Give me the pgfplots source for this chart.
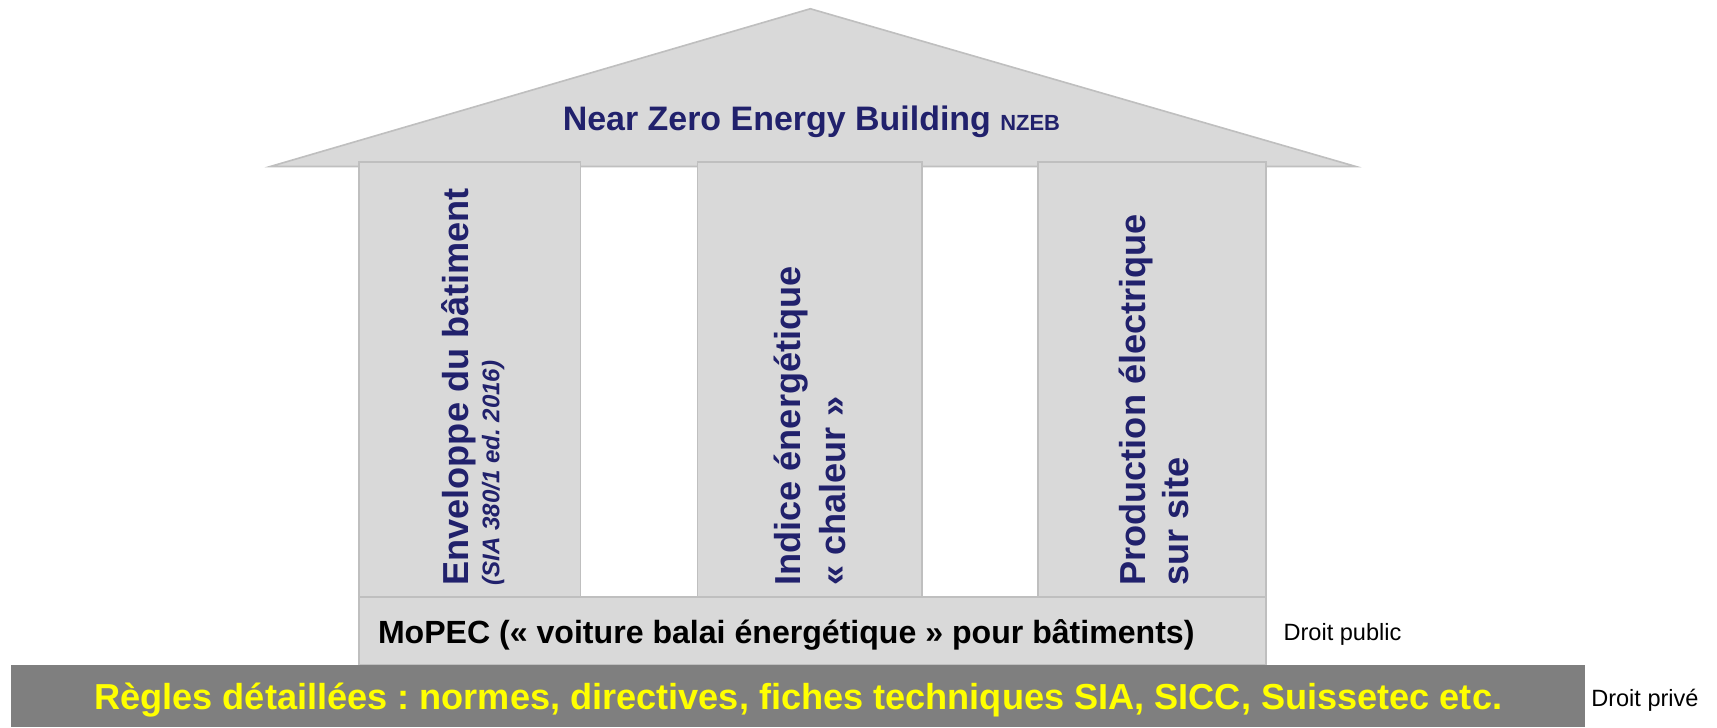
\documentclass[border=0pt]{standalone}
\usepackage{pgfplots}
\pgfplotsset{compat=1.18}
\usepackage{fontspec}
\setmainfont{Liberation Sans}
\frenchspacing
\definecolor{fillg}{HTML}{D9D9D9}
\definecolor{edgeg}{HTML}{BFBFBF}
\definecolor{darkg}{HTML}{7F7F7F}
\definecolor{navy}{RGB}{33,33,108}
\definecolor{yell}{HTML}{FFFF00}
\begin{document}
\begin{tikzpicture}
\begin{axis}[
  hide axis, scale only axis,
  width=1568pt, height=664pt,
  xmin=0, xmax=1568, ymin=0, ymax=664,
  y dir=reverse, clip=false,
]
\path (rel axis cs:0,0) rectangle (rel axis cs:1,1);
% roof
\addplot[fill=fillg, draw=edgeg, line width=1.5pt, line join=miter] coordinates {(247,152) (740,8) (1238,152)} -- cycle;
% columns
\addplot[fill=fillg, draw=edgeg, line width=1.5pt] coordinates {(328,148) (530,148) (530,545) (328,545)} -- cycle;
\addplot[fill=fillg, draw=edgeg, line width=1.5pt] coordinates {(637,148) (842,148) (842,545) (637,545)} -- cycle;
\addplot[fill=fillg, draw=edgeg, line width=1.5pt] coordinates {(948,148) (1156,148) (1156,545) (948,545)} -- cycle;
% MoPEC band
\addplot[fill=fillg, draw=edgeg, line width=1.5pt] coordinates {(328,545) (1156,545) (1156,607) (328,607)} -- cycle;
% bottom band
\addplot[fill=darkg, draw=none] coordinates {(10,607) (1447,607) (1447,664) (10,664)} -- cycle;

% texts
\node[anchor=base, inner sep=0pt, text=navy, font=\bfseries\fontsize{31}{37}\selectfont] at (741,119) {Near Zero Energy Building {\fontsize{20}{24}\selectfont NZEB}};

\node[anchor=base west, rotate=90, inner sep=0pt, text=navy, font=\bfseries\fontsize{33}{40}\selectfont] at (428,535) {Enveloppe du bâtiment};
\node[anchor=base west, rotate=90, inner sep=0pt, text=navy, font=\bfseries\itshape\fontsize{22}{26}\selectfont] at (456,535) {(SIA 380/1 ed. 2016)};

\node[anchor=base west, rotate=90, inner sep=0pt, text=navy, font=\bfseries\fontsize{33}{40}\selectfont] at (731,535) {Indice énergétique};
\node[anchor=base west, rotate=90, inner sep=0pt, text=navy, font=\bfseries\fontsize{33}{40}\selectfont] at (772,535) {« chaleur »};

\node[anchor=base west, rotate=90, inner sep=0pt, text=navy, font=\bfseries\fontsize{33}{40}\selectfont] at (1046,535) {Production électrique};
\node[anchor=base west, rotate=90, inner sep=0pt, text=navy, font=\bfseries\fontsize{33}{40}\selectfont] at (1085,535) {sur site};

\node[anchor=base west, inner sep=0pt, text=black, font=\bfseries\fontsize{29.3}{35}\selectfont] at (345,588) {MoPEC (« voiture balai énergétique » pour bâtiments)};

\node[anchor=base, inner sep=0pt, text=yell, font=\bfseries\fontsize{33}{39}\selectfont] at (729,648) {Règles détaillées : normes, directives, fiches techniques SIA, SICC, Suissetec etc.};

\node[anchor=base west, inner sep=0pt, text=black, font=\fontsize{21.5}{25}\selectfont] at (1172,585) {Droit public};
\node[anchor=base west, inner sep=0pt, text=black, font=\fontsize{21.5}{25}\selectfont] at (1453,645) {Droit privé};
\end{axis}
\end{tikzpicture}
\end{document}
